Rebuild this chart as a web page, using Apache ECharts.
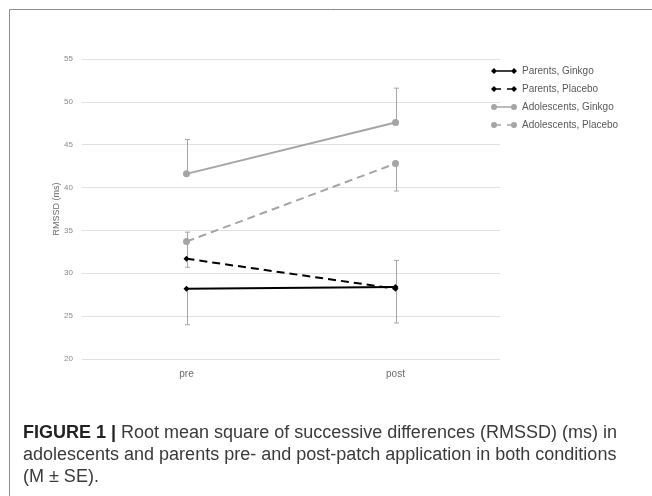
<!DOCTYPE html>
<html>
<head>
<meta charset="utf-8">
<script src="https://cdn.jsdelivr.net/npm/echarts@6/dist/echarts.min.js"></script>
<style>
html,body{margin:0;padding:0;background:#fff;}
#chart{width:652px;height:496px;}
</style>
</head>
<body>
<div id="chart"></div>
<script>
const categories = ['pre', 'post'];
const yTicks = { min: 20, max: 55, interval: 5 };

const parentsGinkgo = [28.2, 28.4];
const parentsPlacebo = [31.7, 28.2];
const adolGinkgo = [41.6, 47.6];
const adolPlacebo = [33.7, 42.8];

// error bar ends (one-sided, as drawn)
const parentsGinkgoLow = [24.0, 24.2];
const parentsPlaceboHigh = [34.8, 31.5];
const adolGinkgoHigh = [45.6, 51.6];
const adolPlaceboLow = [30.7, 39.6];

const seriesNames = ['Parents, Ginkgo', 'Parents, Placebo', 'Adolescents, Ginkgo', 'Adolescents, Placebo'];

const BLACK = '#000000';
const GRAY = '#a5a5a5';

// error bar segments built from arrays: [categoryIndex, from, to]
const errData = [];
[[parentsGinkgo, parentsGinkgoLow], [parentsPlacebo, parentsPlaceboHigh],
 [adolGinkgo, adolGinkgoHigh], [adolPlacebo, adolPlaceboLow]].forEach(function (pair) {
  pair[0].forEach(function (v, i) { errData.push([i, v, pair[1][i]]); });
});

const iconSolidDiamond = 'path://M0,3L3,0L6,3L3,6Z M3,2.2L23,2.2L23,3.8L3,3.8Z M20,3L23,0L26,3L23,6Z';
const iconDashDiamond = 'path://M0,3L3,0L6,3L3,6Z M3,2.2L10,2.2L10,3.8L3,3.8Z M16,2.2L23,2.2L23,3.8L16,3.8Z M20,3L23,0L26,3L23,6Z';
const iconSolidCircle = 'path://M0,3A3,3 0 1,1 6,3A3,3 0 1,1 0,3Z M3,2.2L23,2.2L23,3.8L3,3.8Z M20,3A3,3 0 1,1 26,3A3,3 0 1,1 20,3Z';
const iconDashCircle = 'path://M0,3A3,3 0 1,1 6,3A3,3 0 1,1 0,3Z M3,2.2L10,2.2L10,3.8L3,3.8Z M16,2.2L23,2.2L23,3.8L16,3.8Z M20,3A3,3 0 1,1 26,3A3,3 0 1,1 20,3Z';

const chart = echarts.init(document.getElementById('chart'), null, { renderer: 'canvas' });

function lineSeries(name, data, color, dashed, symbol, size) {
  return {
    name: name, type: 'line', data: data, z: 3,
    symbol: symbol, symbolSize: size,
    lineStyle: { color: color, width: 2, type: dashed ? [8, 5] : 'solid' },
    itemStyle: { color: color, borderWidth: 0 },
    emphasis: { disabled: true },
    animation: false
  };
}

chart.setOption({
  animation: false,
  textStyle: { fontFamily: 'Liberation Sans, Arial, sans-serif' },
  grid: { left: 82, right: 152, top: 59, bottom: 137 },
  title: {
    left: 18, top: 417,
    text: '{b|FIGURE 1 |} Root mean square of successive differences (RMSSD) (ms) in\nadolescents and parents pre- and post-patch application in both conditions\n(M \u00b1 SE).',
    textStyle: {
      fontFamily: 'Liberation Sans, Arial, sans-serif',
      fontSize: 18, fontWeight: 'normal', color: '#3a3a3a', lineHeight: 22,
      rich: {
        b: { fontFamily: 'Liberation Sans, Arial, sans-serif', fontSize: 18, fontWeight: 'bold', color: '#222', lineHeight: 22 }
      }
    }
  },
  legend: {
    orient: 'vertical', left: 486, top: 61,
    itemWidth: 26, itemHeight: 6, itemGap: 8,
    textStyle: { fontSize: 10, color: '#595959', fontFamily: 'Liberation Sans, Arial, sans-serif' },
    data: [
      { name: seriesNames[0], icon: iconSolidDiamond, itemStyle: { color: BLACK, borderWidth: 0 } },
      { name: seriesNames[1], icon: iconDashDiamond, itemStyle: { color: BLACK, borderWidth: 0 } },
      { name: seriesNames[2], icon: iconSolidCircle, itemStyle: { color: GRAY, borderWidth: 0 } },
      { name: seriesNames[3], icon: iconDashCircle, itemStyle: { color: GRAY, borderWidth: 0 } }
    ],
    selectedMode: false
  },
  xAxis: {
    type: 'category', data: categories, boundaryGap: true,
    axisLine: { show: false }, axisTick: { show: false },
    axisLabel: { fontSize: 10, color: '#6b6b6b', margin: 10 },
    splitLine: { show: false }
  },
  yAxis: {
    type: 'value', min: yTicks.min, max: yTicks.max, interval: yTicks.interval,
    name: 'RMSSD (ms)', nameLocation: 'middle', nameGap: 21, nameMoveOverlap: false,
    nameTextStyle: { fontSize: 9, color: '#6b6b6b' },
    axisLine: { show: false }, axisTick: { show: false },
    axisLabel: { fontSize: 8, color: '#8a8a8a', margin: 9 },
    splitLine: { lineStyle: { color: '#e0e0e0', width: 1 } }
  },
  graphic: [
    { type: 'line', shape: { x1: 9.5, y1: 9.5, x2: 652, y2: 9.5 }, style: { stroke: '#8c8c8c', lineWidth: 1 }, silent: true },
    { type: 'line', shape: { x1: 9.5, y1: 9.5, x2: 9.5, y2: 496 }, style: { stroke: '#8c8c8c', lineWidth: 1 }, silent: true }
  ],
  series: [
    {
      type: 'custom', name: 'err', z: 2, silent: true,
      data: errData,
      encode: { x: 0, y: [1, 2] },
      renderItem: function (params, api) {
        const x = api.value(0);
        const p1 = api.coord([x, api.value(1)]);
        const p2 = api.coord([x, api.value(2)]);
        const cx = Math.round(p1[0]) + 0.5;
        const s = { stroke: '#a6a6a6', lineWidth: 1 };
        return {
          type: 'group',
          children: [
            { type: 'line', shape: { x1: cx, y1: p1[1], x2: cx, y2: p2[1] }, style: s },
            { type: 'line', shape: { x1: cx - 2.5, y1: p2[1], x2: cx + 2.5, y2: p2[1] }, style: s }
          ]
        };
      }
    },
    lineSeries(seriesNames[0], parentsGinkgo, BLACK, false, 'diamond', 6),
    lineSeries(seriesNames[1], parentsPlacebo, BLACK, true, 'diamond', 6),
    lineSeries(seriesNames[2], adolGinkgo, GRAY, false, 'circle', 7),
    lineSeries(seriesNames[3], adolPlacebo, GRAY, true, 'circle', 7)
  ]
});
</script>
</body>
</html>
